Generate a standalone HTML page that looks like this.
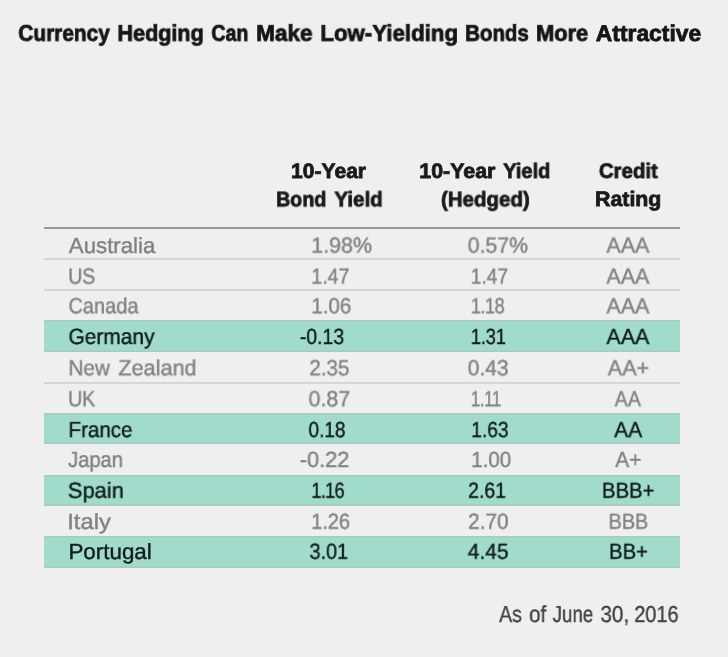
<!DOCTYPE html>
<html><head><meta charset="utf-8"><title>Currency Hedging</title>
<style>
html,body{margin:0;padding:0;}
body{width:728px;height:657px;background:#efefef;position:relative;overflow:hidden;font-family:"Liberation Sans",sans-serif;}
.t{position:absolute;white-space:nowrap;line-height:1;transform-origin:0 0;will-change:transform;text-rendering:geometricPrecision;}
.title{font-size:22.82px;font-weight:700;-webkit-text-stroke:0.80px currentColor;}
.head{font-size:20.93px;font-weight:700;-webkit-text-stroke:0.80px currentColor;}
.body{font-size:21.95px;font-weight:400;-webkit-text-stroke:0.40px currentColor;}
.foot{font-size:23.11px;font-weight:400;-webkit-text-stroke:0.40px currentColor;}
.g{position:absolute;left:44px;width:636px;background:#a0dbcc;box-shadow:inset 0 1.5px 0 rgba(178,178,178,0.40), inset 0 -1.5px 0 rgba(178,178,178,0.40);}
.l{position:absolute;left:43.6px;width:636.4px;height:2px;background:#d6d6d6;}
#w{position:absolute;left:0;top:0;width:728px;height:657px;filter:blur(0.4px);}
</style></head><body><div id="w">
<div class="g" style="top:320.10px;height:31.70px"></div>
<div class="g" style="top:412.80px;height:31.70px"></div>
<div class="g" style="top:474.60px;height:31.70px"></div>
<div class="g" style="top:536.40px;height:31.70px"></div>
<div class="l" style="top:227.00px;height:2px;background:#999999"></div>
<div class="l" style="top:257.90px"></div>
<div class="l" style="top:288.80px"></div>
<div class="l" style="top:381.50px"></div>
<div class="t title" style="left:18px;top:21px;color:#151515;transform:translate(0.27px,0.80px) scale(0.9139,1.0000)">Currency</div>
<div class="t title" style="left:117px;top:21px;color:#151515;transform:translate(0.43px,0.80px) scale(0.9472,1.0000)">Hedging</div>
<div class="t title" style="left:211px;top:21px;color:#151515;transform:translate(0.34px,0.80px) scale(0.8593,1.0000)">Can</div>
<div class="t title" style="left:256px;top:21px;color:#151515;transform:translate(0.11px,0.80px) scale(0.9867,1.0000)">Make</div>
<div class="t title" style="left:320px;top:21px;color:#151515;transform:translate(0.31px,0.80px) scale(0.9760,1.0000)">Low-Yielding</div>
<div class="t title" style="left:465px;top:21px;color:#151515;transform:translate(0.16px,0.80px) scale(0.8966,1.0000)">Bonds</div>
<div class="t title" style="left:536px;top:21px;color:#151515;transform:translate(0.03px,0.80px) scale(0.9573,1.0000)">More</div>
<div class="t title" style="left:595px;top:21px;color:#151515;transform:translate(0.80px,0.80px) scale(1.0012,1.0000)">Attractive</div>
<div class="t head" style="left:291px;top:161px;color:#1a1a1a;transform:translate(0.10px,0.90px) scale(1.0066,1.0000)">10-Year</div>
<div class="t head" style="left:276px;top:190px;color:#1a1a1a;transform:translate(0.14px,0.30px) scale(0.9358,1.0000)">Bond</div>
<div class="t head" style="left:334px;top:190px;color:#1a1a1a;transform:translate(0.39px,0.30px) scale(0.9809,1.0000)">Yield</div>
<div class="t head" style="left:419px;top:161px;color:#1a1a1a;transform:translate(0.29px,0.90px) scale(1.0228,1.0000)">10-Year</div>
<div class="t head" style="left:503px;top:161px;color:#1a1a1a;transform:translate(0.18px,0.90px) scale(0.9566,1.0000)">Yield</div>
<div class="t head" style="left:441px;top:190px;color:#1a1a1a;transform:translate(0.01px,0.30px) scale(0.9778,1.0000)">(Hedged)</div>
<div class="t head" style="left:598px;top:161px;color:#1a1a1a;transform:translate(0.89px,0.90px) scale(0.9726,1.0000)">Credit</div>
<div class="t head" style="left:594px;top:190px;color:#1a1a1a;transform:translate(0.99px,0.30px) scale(1.0202,1.0000)">Rating</div>
<div class="t body" style="left:68px;top:234px;color:#828282;transform:translate(0.80px,0.60px) scale(1.0144,1.0000)">Australia</div>
<div class="t body" style="left:311px;top:234px;color:#828282;transform:translate(0.22px,0.60px) scale(0.9771,1.0000)">1.98%</div>
<div class="t body" style="left:467px;top:234px;color:#828282;transform:translate(0.69px,0.60px) scale(0.9695,1.0000)">0.57%</div>
<div class="t body" style="left:606px;top:234px;color:#828282;transform:translate(0.40px,0.60px) scale(0.9784,1.0000)">AAA</div>
<div class="t body" style="left:68px;top:265px;color:#828282;transform:translate(0.19px,0.60px) scale(0.8925,1.0000)">US</div>
<div class="t body" style="left:311px;top:265px;color:#828282;transform:translate(0.29px,0.60px) scale(0.8927,1.0000)">1.47</div>
<div class="t body" style="left:470px;top:265px;color:#828282;transform:translate(0.70px,0.60px) scale(0.8760,1.0000)">1.47</div>
<div class="t body" style="left:606px;top:265px;color:#828282;transform:translate(0.40px,0.60px) scale(0.9784,1.0000)">AAA</div>
<div class="t body" style="left:68px;top:295px;color:#828282;transform:translate(0.47px,0.30px) scale(0.9099,1.0000)">Canada</div>
<div class="t body" style="left:311px;top:295px;color:#828282;transform:translate(0.25px,0.30px) scale(0.9380,1.0000)">1.06</div>
<div class="t body" style="left:470px;top:295px;color:#828282;letter-spacing:-0.75px;transform:translate(0.73px,0.30px) scale(0.8400,1.0000)">1.18</div>
<div class="t body" style="left:606px;top:295px;color:#828282;transform:translate(0.40px,0.30px) scale(0.9784,1.0000)">AAA</div>
<div class="t body" style="left:68px;top:326px;color:#101c1a;transform:translate(0.44px,0.00px) scale(0.9549,1.0000)">Germany</div>
<div class="t body" style="left:299px;top:326px;color:#101c1a;transform:translate(0.78px,0.00px) scale(0.8884,1.0000)">-0.13</div>
<div class="t body" style="left:470px;top:326px;color:#101c1a;letter-spacing:-0.24px;transform:translate(0.73px,0.00px) scale(0.8400,1.0000)">1.31</div>
<div class="t body" style="left:606px;top:326px;color:#101c1a;transform:translate(0.40px,0.00px) scale(0.9784,1.0000)">AAA</div>
<div class="t body" style="left:68px;top:357px;color:#828282;transform:translate(0.44px,0.30px) scale(0.9461,1.0000)">New</div>
<div class="t body" style="left:118px;top:357px;color:#828282;transform:translate(0.30px,0.30px) scale(0.9876,1.0000)">Zealand</div>
<div class="t body" style="left:309px;top:357px;color:#828282;transform:translate(0.35px,0.30px) scale(0.9380,1.0000)">2.35</div>
<div class="t body" style="left:467px;top:357px;color:#828282;transform:translate(0.69px,0.30px) scale(0.9581,1.0000)">0.43</div>
<div class="t body" style="left:607px;top:357px;color:#828282;transform:translate(0.70px,0.30px) scale(0.9865,1.0000)">AA+</div>
<div class="t body" style="left:68px;top:388px;color:#828282;transform:translate(0.09px,0.20px) scale(0.8928,1.0000)">UK</div>
<div class="t body" style="left:308px;top:388px;color:#828282;transform:translate(0.50px,0.20px) scale(0.9768,1.0000)">0.87</div>
<div class="t body" style="left:470px;top:388px;color:#828282;letter-spacing:-0.64px;transform:translate(0.78px,0.20px) scale(0.7800,1.0000)">1.11</div>
<div class="t body" style="left:614px;top:388px;color:#828282;transform:translate(0.68px,0.20px) scale(0.8924,1.0000)">AA</div>
<div class="t body" style="left:68px;top:419px;color:#101c1a;transform:translate(0.45px,0.10px) scale(0.9381,1.0000)">France</div>
<div class="t body" style="left:308px;top:419px;color:#101c1a;transform:translate(0.47px,0.10px) scale(0.8672,1.0000)">0.18</div>
<div class="t body" style="left:471px;top:419px;color:#101c1a;transform:translate(0.20px,0.10px) scale(0.8760,1.0000)">1.63</div>
<div class="t body" style="left:614px;top:419px;color:#101c1a;transform:translate(0.19px,0.10px) scale(0.9523,1.0000)">AA</div>
<div class="t body" style="left:68px;top:449px;color:#828282;transform:translate(0.08px,0.00px) scale(0.9191,1.0000)">Japan</div>
<div class="t body" style="left:299px;top:449px;color:#828282;transform:translate(0.80px,0.00px) scale(0.9920,1.0000)">-0.22</div>
<div class="t body" style="left:471px;top:449px;color:#828282;transform:translate(0.15px,0.00px) scale(0.9380,1.0000)">1.00</div>
<div class="t body" style="left:615px;top:449px;color:#828282;transform:translate(0.29px,0.00px) scale(0.9470,1.0000)">A+</div>
<div class="t body" style="left:67px;top:479px;color:#101c1a;transform:translate(0.80px,0.80px) scale(0.9980,1.0000)">Spain</div>
<div class="t body" style="left:311px;top:479px;color:#101c1a;letter-spacing:-0.99px;transform:translate(0.33px,0.80px) scale(0.8400,1.0000)">1.16</div>
<div class="t body" style="left:468px;top:479px;color:#101c1a;transform:translate(0.09px,0.80px) scale(0.8879,1.0000)">2.61</div>
<div class="t body" style="left:601px;top:479px;color:#101c1a;transform:translate(0.96px,0.80px) scale(0.9241,1.0000)">BBB+</div>
<div class="t body" style="left:67px;top:510px;color:#828282;transform:translate(0.25px,0.80px) scale(1.0837,1.0000)">Italy</div>
<div class="t body" style="left:311px;top:510px;color:#828282;transform:translate(0.27px,0.80px) scale(0.9070,1.0000)">1.26</div>
<div class="t body" style="left:468px;top:510px;color:#828282;transform:translate(0.04px,0.80px) scale(0.9500,1.0000)">2.70</div>
<div class="t body" style="left:608px;top:510px;color:#828282;transform:translate(0.58px,0.80px) scale(0.9024,1.0000)">BBB</div>
<div class="t body" style="left:68px;top:540px;color:#101c1a;transform:translate(0.38px,0.80px) scale(1.0208,1.0000)">Portugal</div>
<div class="t body" style="left:309px;top:540px;color:#101c1a;transform:translate(0.48px,0.80px) scale(0.9045,1.0000)">3.01</div>
<div class="t body" style="left:467px;top:540px;color:#101c1a;transform:translate(0.69px,0.80px) scale(0.9581,1.0000)">4.45</div>
<div class="t body" style="left:609px;top:540px;color:#101c1a;transform:translate(0.06px,0.80px) scale(0.9222,1.0000)">BB+</div>
<div class="t foot" style="left:499px;top:603px;color:#444444;transform:translate(0.17px,0.00px) scale(0.8391,1.0000)">As</div>
<div class="t foot" style="left:528px;top:603px;color:#444444;transform:translate(0.98px,0.00px) scale(0.8987,1.0000)">of</div>
<div class="t foot" style="left:552px;top:603px;color:#444444;transform:translate(0.66px,0.00px) scale(0.8095,1.0000)">June</div>
<div class="t foot" style="left:600px;top:603px;color:#444444;transform:translate(0.48px,0.00px) scale(0.8938,1.0000)">30,</div>
<div class="t foot" style="left:634px;top:603px;color:#444444;transform:translate(0.31px,0.00px) scale(0.8607,1.0000)">2016</div>
</div></body></html>
